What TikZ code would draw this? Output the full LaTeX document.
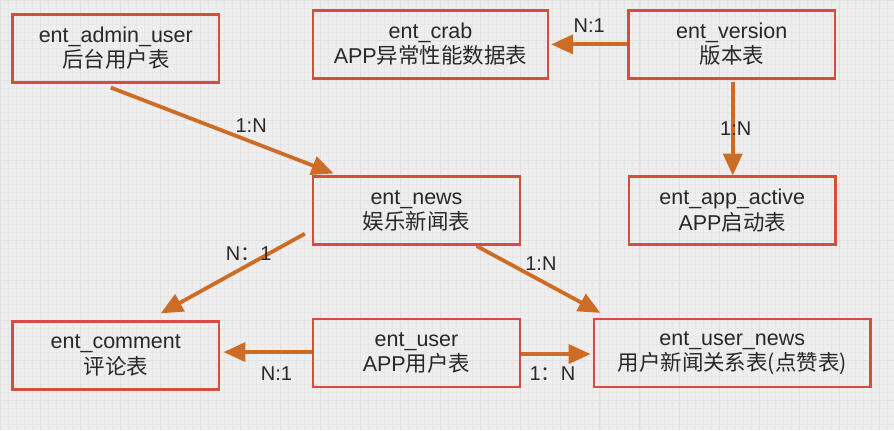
\documentclass[tikz,border=0pt]{standalone}
\usepackage{fontspec}
\setmainfont{Liberation Sans}
\newfontfamily\cjk{Noto Sans CJK SC}
\newcommand{\zh}[1]{{\cjk #1}}
\usepackage{xcolor}
\definecolor{boxred}{RGB}{214,76,62}
\definecolor{linkorange}{RGB}{205,108,36}
\definecolor{paper}{RGB}{238,238,238}
\definecolor{gridfine}{RGB}{231,231,231}
\definecolor{gridbold}{RGB}{224,224,224}
\definecolor{ink}{RGB}{40,40,40}
\usetikzlibrary{positioning}
\usetikzlibrary{arrows.meta}

\begin{document}
\begin{tikzpicture}[x=1pt,y=1pt,
 tbl/.style={draw=boxred,line width=2.5pt,minimum width=207pt,minimum height=68pt,align=center,text=ink,inner sep=0pt,font=\fontsize{21.5}{25.5}\selectfont},
 rel/.style={draw=linkorange,line width=3.8pt,-{Triangle[length=22pt,width=19pt]}},
 card/.style={text=ink,inner sep=0pt,font=\fontsize{20}{24}\selectfont}]
% paper with grid
\fill[paper] (0,0) rectangle (894,-430);
\draw[gridfine,line width=0.6pt,step=8pt] (0,-430) grid (894,0);
\draw[gridbold,line width=0.8pt,step=40pt] (0,-430) grid (894,0);
\useasboundingbox (0,0) rectangle (894,-430);
% tables
\node[tbl] (admin) at (115.5,-48) {ent\_admin\_user\\\zh{后台用户表}};
\node[tbl,minimum width=235pt] (crab) at (430.5,-44) {ent\_crab\\APP\zh{异常性能数据表}};
\node[tbl] (version) at (732,-44) {ent\_version\\\zh{版本表}};
\node[tbl] (news) at (416.5,-210.5) {ent\_news\\\zh{娱乐新闻表}};
\node[tbl] (app) at (732.5,-210.5) {ent\_app\_active\\APP\zh{启动表}};
\node[tbl] (comment) at (115.5,-355.5) {ent\_comment\\\zh{评论表}};
\node[tbl] (user) at (416.5,-353) {ent\_user\\APP\zh{用户表}};
\node[tbl,minimum width=277pt] (usernews) at (732.5,-353) {ent\_user\_news\\\zh{用户新闻关系表(点赞表)}};
% relations
\draw[rel] ([shift={(-5,-4)}]admin.south) -- node[card,pos=.63,above=7pt]{1:N} ([shift={(-83,2)}]news.north);
\draw[rel] (version.west) -- node[card,above=10pt]{N:1} ([xshift=2pt]crab.east);
\draw[rel] ([shift={(1,-2)}]version.south) -- node[card,xshift=3pt]{1:N} ([xshift=0.5pt]app.north);
\draw[rel] ([shift={(-7,-23)}]news.west) -- node[card,pos=.39,above=2.5pt]{N\zh{：}1} ([shift={(45,7)}]comment.north);
\draw[rel] ([xshift=60pt]news.south) -- node[card,pos=.52,above=8pt]{1:N} ([shift={(-132,5)}]usernews.north);
\draw[rel] ([yshift=1pt]user.west) -- node[card,pos=.4,below=13pt]{N:1} ([shift={(3,3.5)}]comment.east);
\draw[rel] ([yshift=-1pt]user.east) -- node[card,pos=.45,below=11pt]{1\zh{：}N} ([shift={(-2,-1)}]usernews.west);
\end{tikzpicture}
\end{document}
